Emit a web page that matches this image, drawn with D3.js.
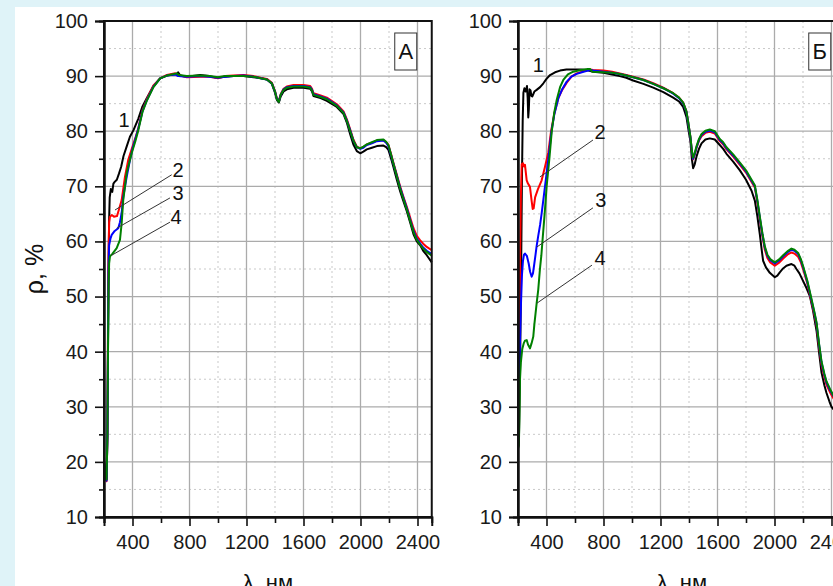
<!DOCTYPE html>
<html>
<head>
<meta charset="utf-8">
<script src="https://cdn.jsdelivr.net/npm/d3@7/dist/d3.min.js"></script>
<style>
  html, body { margin: 0; padding: 0; background: #dff3f8; }
  svg { display: block; }
</style>
</head>
<body>
<svg id="chart" width="833" height="586"></svg>
<script>
// ---------------- DATA ----------------
const xTicks = [400, 800, 1200, 1600, 2000, 2400];
const xMinorTicks = [200, 600, 1000, 1400, 1800, 2200];
const yTicks = [10, 20, 30, 40, 50, 60, 70, 80, 90, 100];
const yMinorTicks = [15, 25, 35, 45, 55, 65, 75, 85, 95];
const xDomain = [200, 2500];
const yDomain = [10, 100];
const seriesNames = ["1", "2", "3", "4"];
const seriesColors = ["#000000", "#ff0000", "#0000ff", "#008000"];
const panelLetters = ["A", "Б"];
const xTitle = "λ, нм";
const yTitle = "ρ, %";

// Panel A: [wavelength nm, reflectance %]
const A1 = [[200,20],[210,17.5],[218,16.8],[224,25],[228,40],[232,55],[236,64],[240,68],[248,69.5],[258,69],[266,70.5],[275,70.8],[290,71.2],[305,72.3],[320,73.5],[337,75.5],[360,77.3],[382,79],[407,80.2],[441,82.3],[470,84.5],[500,86],[547,88.2],[594,89.6],[641,90.1],[711,90.4],[720,90.7],[735,90.1],[781,89.9],[875,90.2],[940,90],[992,89.7],[1050,89.9],[1109,90],[1180,90],[1249,89.8],[1300,89.6],[1343,89.4],[1378,88.6],[1400,87],[1413,85.7],[1427,85.2],[1440,86.3],[1460,87.2],[1483,87.6],[1530,87.9],[1600,87.9],[1647,87.7],[1660,87.2],[1670,86.4],[1720,86],[1764,85.5],[1834,84.4],[1881,83.1],[1905,81.5],[1928,79.4],[1950,77.6],[1974,76.4],[1998,76],[2020,76.3],[2044,76.7],[2080,77],[2115,77.3],[2161,77.4],[2180,77.1],[2196,76.6],[2215,75],[2232,73.4],[2255,71.2],[2278,69.1],[2300,67.4],[2325,65.5],[2350,63.3],[2372,61.3],[2395,60],[2419,59.3],[2440,58.3],[2465,57.5],[2500,56.2]];
const A2 = [[200,20],[210,17.2],[218,16.5],[224,25],[228,45],[232,58],[236,63.5],[242,64.5],[255,64.8],[270,64.5],[291,64.6],[305,65.8],[324,67.5],[347,71.7],[370,74.8],[395,76.8],[418,78.6],[441,80.6],[470,83.8],[500,85.8],[547,88.3],[594,89.6],[641,90.2],[700,90.5],[720,90.2],[781,89.8],[875,89.9],[940,89.9],[1000,89.6],[1050,90],[1109,90.1],[1180,90.2],[1249,90],[1300,89.7],[1343,89.5],[1378,88.8],[1400,87.3],[1413,86],[1427,85.5],[1440,86.7],[1460,87.7],[1483,88.1],[1530,88.4],[1600,88.4],[1647,88.2],[1660,87.7],[1670,86.9],[1720,86.5],[1764,86.1],[1834,84.9],[1881,83.6],[1905,82.1],[1928,80.3],[1950,78.5],[1974,77.2],[1998,76.9],[2020,77.1],[2044,77.6],[2080,77.9],[2115,78.3],[2161,78.4],[2180,78],[2196,77.5],[2215,75.8],[2232,74.2],[2255,72.1],[2278,70],[2300,68.2],[2325,66.3],[2350,64.2],[2372,62.4],[2395,61],[2419,60.2],[2440,59.6],[2465,59],[2500,58.4]];
const A3 = [[200,20],[210,17.3],[218,16.6],[224,25],[228,42],[232,55],[236,59.3],[245,60.5],[254,61.2],[275,61.9],[300,62.4],[312,63.5],[324,65.2],[335,68.1],[359,71.7],[380,74.5],[400,76.8],[420,78.6],[441,80.5],[470,83.6],[500,85.6],[547,88.1],[594,89.6],[641,90.1],[700,90.3],[720,90],[781,89.9],[875,90],[940,89.9],[1000,89.7],[1050,89.9],[1109,90],[1180,90.1],[1249,89.9],[1300,89.6],[1343,89.4],[1378,88.7],[1400,87.2],[1413,85.9],[1427,85.4],[1440,86.6],[1460,87.6],[1483,88],[1530,88.2],[1600,88.2],[1647,88],[1660,87.5],[1670,86.7],[1720,86.3],[1764,85.9],[1834,84.7],[1881,83.4],[1905,81.9],[1928,80.1],[1950,78.3],[1974,77.1],[1998,76.8],[2020,77],[2044,77.5],[2080,77.8],[2115,78.2],[2161,78.3],[2180,77.9],[2196,77.3],[2215,75.6],[2232,74],[2255,71.9],[2278,69.8],[2300,68],[2325,66],[2350,63.8],[2372,61.9],[2395,60.5],[2419,59.6],[2440,58.9],[2465,58.3],[2500,57.7]];
const A4 = [[200,20],[210,17.4],[218,16.8],[224,25],[228,40],[232,52],[236,56],[242,57.3],[260,57.8],[289,58.8],[312,60.3],[324,63.3],[335,67.5],[359,72.4],[394,76],[420,78.2],[441,80.2],[470,83.5],[500,85.5],[547,88],[594,89.6],[641,90.1],[711,90.5],[725,90.2],[781,90],[875,90.1],[940,90],[1000,89.8],[1050,90],[1109,90],[1180,90],[1249,89.9],[1300,89.6],[1343,89.4],[1378,88.7],[1400,87.2],[1413,85.8],[1427,85.3],[1440,86.6],[1460,87.5],[1483,87.9],[1530,88.1],[1600,88.1],[1647,87.9],[1660,87.4],[1670,86.6],[1720,86.2],[1764,85.8],[1834,84.6],[1881,83.3],[1905,81.8],[1928,80],[1950,78.3],[1974,77.1],[1998,76.9],[2020,77.2],[2044,77.6],[2080,78],[2115,78.4],[2161,78.5],[2180,78.1],[2196,77.5],[2215,75.7],[2232,74],[2255,71.8],[2278,69.6],[2300,67.8],[2325,65.8],[2350,63.6],[2372,61.7],[2395,60.3],[2419,59.4],[2440,58.7],[2465,58.1],[2500,57.4]];

// Panel Б
const B1 = [[200,22],[207,25],[215,38],[222,55],[228,72],[233,82],[238,87],[245,87.8],[252,87.2],[258,87.6],[263,88.2],[268,86],[272,82.5],[276,84],[281,87.6],[288,87.4],[294,86.4],[300,86.3],[315,87.2],[331,87.5],[355,88],[378,88.7],[400,89.5],[425,90.2],[460,90.7],[495,91],[540,91.2],[588,91.2],[640,91.2],[682,91.1],[727,90.8],[800,90.6],[860,90.3],[914,90],[960,89.7],[1008,89.2],[1080,88.6],[1149,87.9],[1220,87.1],[1289,86.1],[1330,85.4],[1359,84.4],[1382,82.6],[1398,80],[1410,78.2],[1420,75],[1429,73.3],[1440,74],[1453,75.4],[1470,76.8],[1488,77.8],[1515,78.5],[1546,78.7],[1581,78.5],[1616,77.5],[1640,76.8],[1663,75.9],[1710,74.5],[1757,72.9],[1800,71.2],[1839,69.2],[1862,67.4],[1880,64.5],[1897,61.3],[1910,58.5],[1920,56.5],[1940,55.3],[1967,54.3],[2002,53.5],[2020,53.8],[2037,54.4],[2060,55.1],[2084,55.6],[2119,55.9],[2140,55.6],[2154,55],[2175,54.2],[2201,52.8],[2225,51.5],[2248,50.1],[2270,47.5],[2295,43.8],[2312,40],[2330,36.2],[2350,33.9],[2365,32.5],[2385,31],[2400,30],[2430,29],[2460,28.2],[2500,27.5]];
const B2 = [[200,25],[205,32],[210,45],[215,58],[220,68],[226,74],[235,74.2],[242,73.6],[249,73.9],[255,72.5],[261,71.1],[270,70.5],[284,69.9],[295,67.5],[303,65.9],[310,66],[320,68],[340,69.5],[366,71.1],[390,73.6],[413,76.2],[432,80],[455,83.2],[483,86],[510,87.5],[542,88.8],[575,89.9],[612,90.5],[660,90.9],[705,91.2],[727,91.1],[800,91],[860,90.8],[914,90.5],[960,90.2],[1008,89.9],[1080,89.4],[1149,88.7],[1220,87.9],[1289,86.9],[1330,86.1],[1359,85.2],[1382,83.6],[1398,81],[1410,78.9],[1420,76.3],[1429,74.9],[1440,75.7],[1453,77],[1470,78.3],[1488,79.1],[1515,79.7],[1546,79.9],[1581,79.6],[1616,78.2],[1640,77.6],[1663,76.7],[1710,75.4],[1757,73.9],[1800,72.5],[1839,70.8],[1862,69.8],[1880,67],[1897,64],[1915,61],[1932,58.5],[1950,57],[1970,56.2],[2002,55.6],[2030,56.1],[2061,56.9],[2090,57.6],[2119,58],[2140,57.8],[2166,57.2],[2185,56.2],[2201,54.9],[2230,52.4],[2260,49],[2280,46.7],[2295,44.8],[2312,41],[2330,37.6],[2350,35.4],[2365,34],[2390,32.6],[2412,31.6],[2440,30.5],[2470,29.6],[2500,29]];
const B3 = [[200,25],[205,30],[212,40],[220,48],[228,54],[235,56.5],[242,57.6],[249,57.8],[262,57.4],[275,56],[285,54.5],[296,53.6],[305,54.2],[312,55.5],[320,57],[330,59],[342,61],[355,63],[366,65.1],[380,68],[401,72.4],[420,76.5],[435,80],[455,83.1],[483,86],[510,87.6],[542,89],[575,89.9],[612,90.4],[660,90.8],[705,91.1],[727,91],[800,90.8],[860,90.6],[914,90.4],[960,90.1],[1008,89.8],[1080,89.3],[1149,88.6],[1220,87.8],[1289,86.8],[1330,86],[1359,85.1],[1382,83.5],[1398,80.9],[1410,78.9],[1420,76.4],[1429,75],[1440,75.8],[1453,77.1],[1470,78.4],[1488,79.3],[1515,79.9],[1546,80.1],[1581,79.8],[1616,78.4],[1640,77.8],[1663,76.9],[1710,75.6],[1757,74.1],[1800,72.7],[1839,71],[1862,70],[1880,67.3],[1897,64.3],[1915,61.3],[1932,58.9],[1950,57.4],[1970,56.6],[2002,56],[2030,56.5],[2061,57.3],[2090,58],[2119,58.5],[2140,58.3],[2166,57.7],[2185,56.6],[2201,55.3],[2230,52.7],[2260,49.3],[2280,47],[2295,45.1],[2312,41.4],[2330,38],[2350,35.8],[2365,34.4],[2390,33],[2412,32],[2440,30.9],[2470,30],[2500,29.4]];
const B4 = [[200,22.5],[206,23],[210,28],[214,35],[220,38],[230,40.5],[240,41.5],[249,42],[261,42.1],[270,41.3],[284,40.6],[295,41.5],[307,42.7],[315,45],[331,48.8],[342,51.2],[354,55],[364,57.5],[373,60.5],[387,65],[401,70],[420,75],[437,80],[455,83.5],[472,85.7],[495,88],[518,89.3],[550,90.3],[588,90.8],[640,91.1],[690,91.3],[705,91.3],[720,90.8],[800,90.7],[860,90.6],[914,90.4],[960,90.1],[1008,89.8],[1080,89.3],[1149,88.6],[1220,87.8],[1289,86.9],[1330,86.1],[1359,85.2],[1382,83.6],[1398,81],[1410,79],[1420,76.5],[1429,75.2],[1440,76],[1453,77.3],[1470,78.6],[1488,79.5],[1515,80.1],[1546,80.3],[1581,80],[1616,78.6],[1640,78],[1663,77.1],[1710,75.8],[1757,74.3],[1800,72.9],[1839,71.2],[1862,70.2],[1880,67.5],[1897,64.5],[1915,61.5],[1932,59.1],[1950,57.6],[1970,56.8],[2002,56.2],[2030,56.7],[2061,57.5],[2090,58.2],[2119,58.7],[2140,58.5],[2166,57.9],[2185,56.8],[2201,55.5],[2230,52.9],[2260,49.5],[2280,47.2],[2295,45.3],[2312,41.6],[2330,38.2],[2350,36],[2365,34.6],[2390,33.2],[2412,32.1],[2440,31],[2470,30.1],[2500,29.5]];

// Curve number labels [nm, %] and leader lines [[nm,%],[nm,%]]
const A_labelPos = [[340,82],[719,73],[719,68.8],[705,64.4]];
const A_leaders = [null, [[675,72.1],[277,65.7]], [[663,67.9],[289,62.4]], [[663,63.5],[254,57.5]]];
const B_labelPos = [[342,92],[775,79.9],[782,67.5],[775,57]];
const B_leaders = [null, [[726,78.4],[354,71.7]], [[726,66.1],[333,59]], [[719,55.7],[333,48.8]]];

// ---------------- DRAW ----------------
const FONT = "'Liberation Sans', Arial, Helvetica, sans-serif";
const svg = d3.select("#chart");
svg.append("rect").attr("x", 15).attr("y", 7).attr("width", 833).attr("height", 600).attr("fill", "#ffffff");

const plotTop = 21, plotBottom = 517, plotWidth = 327.75;

function drawPanel(x0, curves, labelPos, leaders, letter, showYTitle) {
  const x = d3.scaleLinear().domain(xDomain).range([x0, x0 + plotWidth]);
  const y = d3.scaleLinear().domain(yDomain).range([plotBottom, plotTop]);
  const g = svg.append("g");

  // minor grid (dotted)
  g.selectAll(".gxm").data(xMinorTicks.filter(d => d > xDomain[0])).enter().append("line")
    .attr("x1", d => x(d)).attr("x2", d => x(d)).attr("y1", plotTop).attr("y2", plotBottom)
    .attr("stroke", "#c9c9c9").attr("stroke-width", 1).attr("stroke-dasharray", "2,3");
  g.selectAll(".gym").data(yMinorTicks).enter().append("line")
    .attr("x1", x0).attr("x2", x0 + plotWidth).attr("y1", d => y(d)).attr("y2", d => y(d))
    .attr("stroke", "#c9c9c9").attr("stroke-width", 1).attr("stroke-dasharray", "2,3");
  // major grid
  g.selectAll(".gx").data(xTicks).enter().append("line")
    .attr("x1", d => x(d)).attr("x2", d => x(d)).attr("y1", plotTop).attr("y2", plotBottom)
    .attr("stroke", "#ababab").attr("stroke-width", 1.3);
  g.selectAll(".gy").data(yTicks.filter(d => d > yDomain[0] && d < yDomain[1])).enter().append("line")
    .attr("x1", x0).attr("x2", x0 + plotWidth).attr("y1", d => y(d)).attr("y2", d => y(d))
    .attr("stroke", "#ababab").attr("stroke-width", 1.3);

  // curves
  const line = d3.line().x(d => x(d[0])).y(d => y(d[1])).curve(d3.curveLinear);
  curves.forEach((c, i) => {
    g.append("path").datum(c).attr("d", line).attr("fill", "none")
      .attr("stroke", seriesColors[i]).attr("stroke-width", 2).attr("stroke-linejoin", "round");
  });

  // leaders
  leaders.forEach(l => {
    if (!l) return;
    g.append("line").attr("x1", x(l[0][0])).attr("y1", y(l[0][1]))
      .attr("x2", x(l[1][0])).attr("y2", y(l[1][1]))
      .attr("stroke", "#333").attr("stroke-width", 1);
  });
  labelPos.forEach((p, i) => {
    g.append("text").attr("x", x(p[0])).attr("y", y(p[1])).attr("dy", "0.36em")
      .attr("text-anchor", "middle").attr("font-family", FONT).attr("font-size", 20)
      .attr("fill", "#111").text(seriesNames[i]);
  });

  // frame
  g.append("rect").attr("x", x0).attr("y", plotTop).attr("width", plotWidth).attr("height", plotBottom - plotTop)
    .attr("fill", "none").attr("stroke", "#111").attr("stroke-width", 2);

  // axes
  const yAxis = g.append("g").attr("transform", `translate(${x0},0)`)
    .call(d3.axisLeft(y).tickValues(yTicks).tickSize(9).tickPadding(7).tickFormat(d3.format("d")));
  const yMinor = g.append("g").attr("transform", `translate(${x0},0)`)
    .call(d3.axisLeft(y).tickValues(yMinorTicks).tickSize(5).tickFormat(""));
  const xAxis = g.append("g").attr("transform", `translate(0,${plotBottom})`)
    .call(d3.axisBottom(x).tickValues(xTicks).tickSize(9).tickPadding(9).tickFormat(d3.format("d")));
  const xMinor = g.append("g").attr("transform", `translate(0,${plotBottom})`)
    .call(d3.axisBottom(x).tickValues(xMinorTicks).tickSize(6).tickFormat(""));
  [yAxis, yMinor, xAxis, xMinor].forEach(a => {
    a.select(".domain").attr("stroke", "#111").attr("stroke-width", 2);
    a.selectAll(".tick line").attr("stroke", "#111").attr("stroke-width", 1.6);
    a.selectAll("text").attr("font-family", FONT).attr("font-size", 20).attr("fill", "#1a1a1a");
  });

  // panel letter box
  const bx = x0 + plotWidth - 15 - 22, by = plotTop + 12;
  g.append("rect").attr("x", bx).attr("y", by).attr("width", 22).attr("height", 37)
    .attr("fill", "#fff").attr("stroke", "#333").attr("stroke-width", 1);
  g.append("text").attr("x", bx + 11).attr("y", by + 18.5).attr("dy", "0.36em")
    .attr("text-anchor", "middle").attr("font-family", FONT).attr("font-size", 22)
    .attr("fill", "#111").text(letter);

  // axis titles
  g.append("text").attr("x", x0 + plotWidth / 2).attr("y", 590).attr("text-anchor", "middle")
    .attr("font-family", FONT).attr("font-size", 22).attr("fill", "#111").text(xTitle);
  if (showYTitle) {
    g.append("text").attr("transform", `translate(43,${(plotTop + plotBottom) / 2}) rotate(-90)`)
      .attr("text-anchor", "middle").attr("font-family", FONT).attr("font-size", 25)
      .attr("fill", "#111").text(yTitle);
  }
}

drawPanel(104, [A1, A2, A3, A4], A_labelPos, A_leaders, panelLetters[0], true);
drawPanel(518, [B1, B2, B3, B4], B_labelPos, B_leaders, panelLetters[1], false);
</script>
</body>
</html>
